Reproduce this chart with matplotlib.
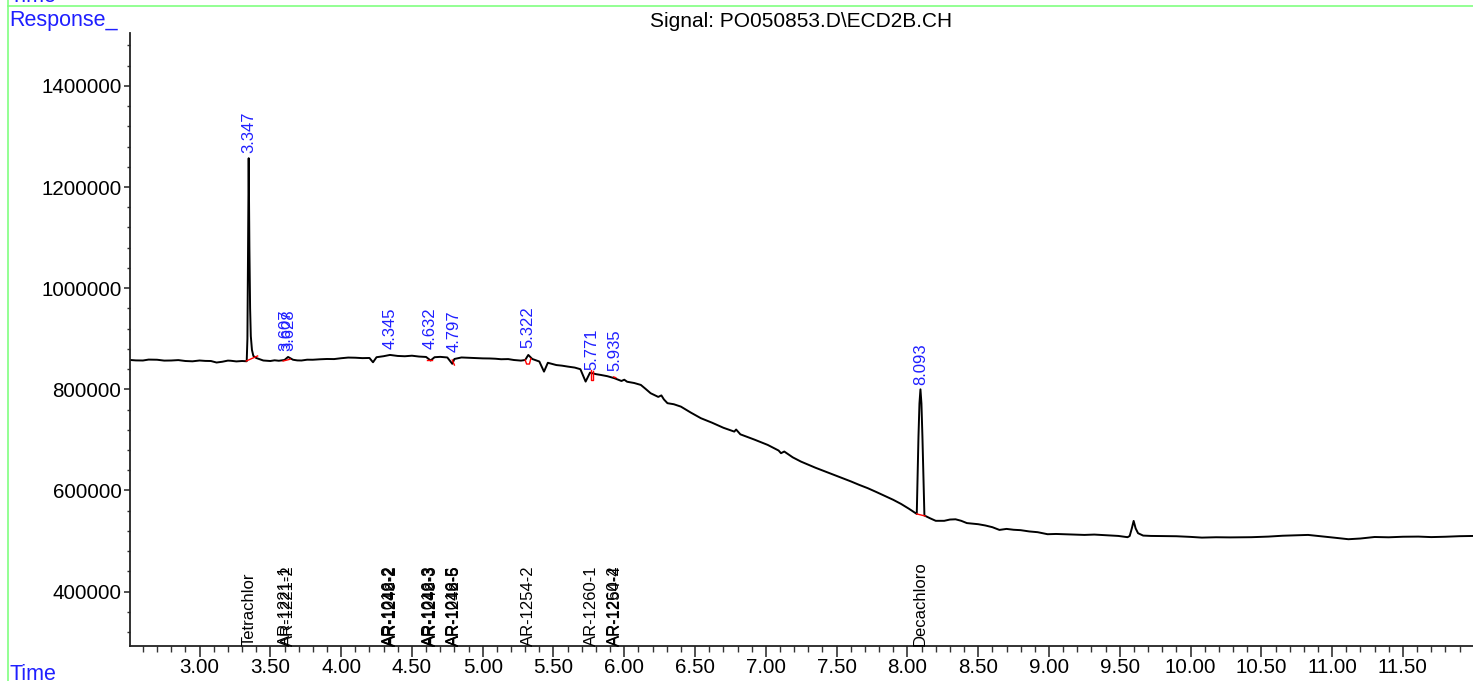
import matplotlib.pyplot as plt
import matplotlib.ticker as mticker

plt.rcParams['font.family'] = ['Liberation Sans', 'DejaVu Sans']

# trace (time in min, response)
time = [2.51, 2.55, 2.60, 2.64, 2.70, 2.75, 2.80, 2.85, 2.90, 2.95, 3.00, 3.04,
        3.08, 3.12, 3.16, 3.20, 3.22, 3.26, 3.30, 3.333,
        3.338, 3.343, 3.347, 3.352, 3.357, 3.362, 3.37, 3.38, 3.40, 3.45, 3.50,
        3.53, 3.56, 3.60, 3.625, 3.66, 3.69, 3.72, 3.76, 3.80, 3.85, 3.90, 3.95,
        4.00, 4.05, 4.10, 4.15, 4.20, 4.225, 4.25,
        4.30, 4.345, 4.40, 4.45, 4.50, 4.55, 4.60, 4.632, 4.66, 4.70, 4.75, 4.785,
        4.80, 4.85, 4.90, 4.95,
        5.00, 5.05, 5.09, 5.13, 5.18, 5.22, 5.27, 5.30, 5.322, 5.35, 5.40, 5.433,
        5.46, 5.49, 5.52, 5.56, 5.60, 5.65,
        5.69, 5.727, 5.758, 5.80, 5.833, 5.88, 5.93, 5.98, 6.00, 6.02, 6.07,
        6.117, 6.15, 6.186,
        6.24, 6.262, 6.28, 6.305, 6.35, 6.40, 6.47, 6.541, 6.62, 6.70, 6.777,
        6.79, 6.82, 6.92, 7.013,
        7.09, 7.107, 7.13, 7.19, 7.248, 7.30, 7.35, 7.42, 7.484, 7.54, 7.60, 7.66,
        7.72, 7.78, 7.85, 7.90, 7.955, 8.01, 8.066,
        8.078, 8.085, 8.092, 8.099, 8.106, 8.12, 8.16, 8.20, 8.26, 8.30, 8.34,
        8.38, 8.42, 8.50, 8.55, 8.60, 8.65, 8.70, 8.75, 8.80, 8.86, 8.92, 8.99,
        9.05, 9.12, 9.18, 9.25, 9.32, 9.40,
        9.49, 9.555, 9.57, 9.585, 9.598, 9.612, 9.629, 9.665, 9.72, 9.80, 9.90,
        10.00, 10.08, 10.18, 10.28, 10.43, 10.55, 10.65, 10.75, 10.83, 10.92,
        11.02, 11.115, 11.20, 11.30, 11.40, 11.50, 11.61, 11.70, 11.80, 11.90,
        12.01]
response = [858000, 857200, 857000, 858800, 858500, 856800, 857000, 857800,
            856000, 855400, 857000, 856200, 856000, 853000, 854500, 856800,
            856500, 855200, 856000, 855500,
            900000, 1100000, 1257000, 1080000, 960000, 905000, 878000, 866000,
            862000, 857000, 856000, 857400, 856500, 858000, 864000, 858500,
            857200, 857000, 858600, 858500, 859400, 860000, 859800,
            861500, 862800, 862500, 861700, 862000, 853500, 863500,
            865500, 868000, 866000, 865400, 866500, 864800, 864000, 857000,
            863500, 864200, 863000, 850500,
            860000, 863000, 862400, 862000,
            861200, 861000, 860500, 859500, 859800, 858000, 856800, 858000,
            868000, 860000, 855000, 835000,
            852500, 850200, 848000, 846800, 845000, 843000,
            839800, 815300, 833000, 830000, 828500, 826000, 822000, 816500,
            819000, 815000, 812500,
            808700, 801000, 792300,
            785000, 788000, 780000, 772600, 770500, 765800, 754000, 742900,
            734000, 724000, 716400,
            720500, 711000, 700500, 690100,
            679000, 673700, 677000, 665500, 657100, 651000, 645000, 637500,
            630800, 624500, 618000, 611000,
            604500, 597000, 588000, 581500, 573400, 564000, 553600,
            706000, 772000, 800000, 772000, 706000, 550500, 545000, 540000,
            540000, 542500, 543000,
            540000, 535500, 533300, 530800, 527400, 522000, 524000, 522300,
            521500, 519000, 517500, 513500,
            514000, 513300, 512600, 512100, 512800, 511500,
            510100, 507600, 510000, 525000, 539800, 525000, 515500, 510800,
            510100, 509800, 509500,
            508200, 506800, 507500, 507200, 507600, 508800, 510500, 511500,
            512100, 509500,
            506500, 503600, 505000, 508000, 507400, 508500, 508800, 507800,
            508500, 509600,
            510100]

# integrated peaks
peak_rt = [3.347, 3.607, 3.628, 4.345, 4.632, 4.797, 5.322, 5.771, 5.935, 8.093]
peak_height = [1257000, 864000, 864000, 868000, 868000, 862000, 871000,
               828000, 824500, 798000]

# compound names at their expected times
comp_rt = [3.347, 3.607, 3.628, 4.338, 4.345, 4.352, 4.625, 4.632, 4.639,
           4.790, 4.797, 4.804, 5.322, 5.771, 5.930, 5.937, 8.093]
comp_name = ['Tetrachlor', 'AR-1221-1', 'AR-1221-2',
             'AR-1016-2', 'AR-1242-2', 'AR-1248-2',
             'AR-1016-3', 'AR-1242-3', 'AR-1248-3',
             'AR-1016-5', 'AR-1242-5', 'AR-1248-6',
             'AR-1254-2', 'AR-1260-1', 'AR-1260-2', 'AR-1254-4', 'Decachloro']

# red integration baselines
base_t = [[3.33, 3.41], [3.59, 3.64], [4.61, 4.64], [4.785, 4.80],
          [5.30, 5.31, 5.33, 5.34], [5.768, 5.768, 5.78, 5.78], [5.925, 5.94],
          [8.066, 8.125]]
base_v = [[856000, 866000], [856000, 859500], [858000, 858000], [858000, 848000],
          [858000, 850000, 850000, 861000], [838000, 818000, 818000, 836000],
          [824500, 823000], [553600, 549500]]

blue = '#1f1fff'
green = '#80ff80'

fig = plt.figure(figsize=(14.73, 6.81), dpi=100)
ax = fig.add_axes([0.0881, 0.0518, 0.9119, 0.8993])

ax.plot(time, response, color='black', lw=1.4)
for t, v in zip(base_t, base_v):
    ax.plot(t, v, color='red', lw=1.0)

for rt, h in zip(peak_rt, peak_height):
    ax.annotate(f'{rt:.3f}', (rt, h), xytext=(0, 4), textcoords='offset points',
                rotation=90, ha='center', va='bottom', color=blue, fontsize=12)

for rt, name in zip(comp_rt, comp_name):
    ax.annotate(name, (rt, 293000), xytext=(0, 0), textcoords='offset points',
                rotation=90, ha='center', va='bottom', color='black',
                fontsize=12)

ax.set_xlim(2.507, 11.995)
ax.set_ylim(293000, 1504000)
ax.xaxis.set_major_locator(mticker.MultipleLocator(0.5))
ax.xaxis.set_minor_locator(mticker.MultipleLocator(0.1))
ax.xaxis.set_major_formatter(mticker.FormatStrFormatter('%.2f'))
ax.yaxis.set_major_locator(mticker.MultipleLocator(200000))
ax.yaxis.set_minor_locator(mticker.MultipleLocator(40000))
ax.yaxis.set_major_formatter(mticker.FormatStrFormatter('%d'))

ax.spines['top'].set_visible(False)
ax.spines['right'].set_visible(False)
for s in ['left', 'bottom']:
    ax.spines[s].set_linewidth(1.3)
    ax.spines[s].set_color('#222222')
ax.tick_params(axis='x', which='major', direction='out', length=8, width=1.2,
               labelsize=14.8, pad=1, color='#333333')
ax.tick_params(axis='x', which='minor', direction='out', length=4, width=1.0,
               color='#333333')
ax.tick_params(axis='y', which='major', direction='out', length=4, width=1.2,
               labelsize=14.8, pad=2, color='#333333')
ax.tick_params(axis='y', which='minor', direction='out', length=2.2, width=1.0,
               color='#333333')

# frame and header texts
fig.add_artist(plt.Line2D([8.3 / 1473, 8.3 / 1473], [0, 1], color=green, lw=1.2,
                          transform=fig.transFigure))
fig.add_artist(plt.Line2D([8.3 / 1473, 1], [1 - 5.7 / 681, 1 - 5.7 / 681],
                          color=green, lw=1.2, transform=fig.transFigure))
fig.text(9 / 1473, 1 - 2 / 681, 'Time', color=blue, fontsize=15.5, va='baseline')
fig.text(9 / 1473, 1 - 26 / 681, 'Response_', color=blue, fontsize=15.5,
         va='baseline')
fig.text(9 / 1473, 1 - 680 / 681, 'Time', color=blue, fontsize=15.5,
         va='baseline')
fig.text(801 / 1473, 1 - 27 / 681, 'Signal: PO050853.D\\ECD2B.CH', color='black',
         fontsize=15, ha='center', va='baseline')

fig.savefig('out.png', dpi=100)
